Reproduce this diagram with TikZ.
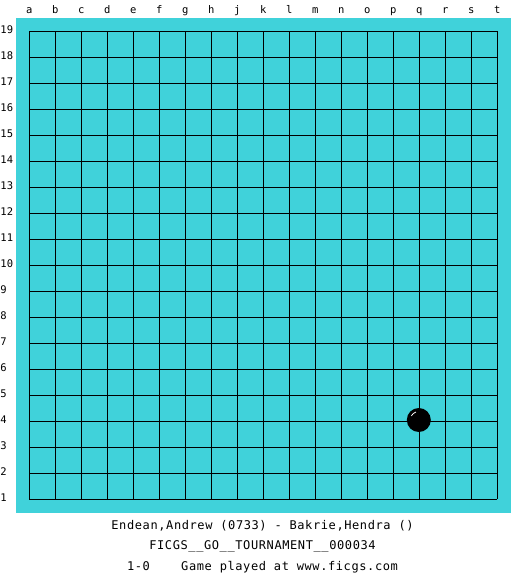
\documentclass[tikz,border=0pt]{standalone}
\usepackage{fontspec}
\newfontfamily\boardmono{DejaVu Sans Mono}
\newfontfamily\titlemono[LetterSpace=5]{DejaVu Sans Mono}
\definecolor{boardcyan}{RGB}{64,210,218}
\tikzset{
  lbl/.style={inner sep=0pt, font=\boardmono\fontsize{10.5}{12}\selectfont},
  title/.style={inner sep=0pt, anchor=base, font=\titlemono\fontsize{12}{14}\selectfont},
  gridline/.style={line width=1pt, black},
}
\begin{document}
\begin{tikzpicture}[x=1pt,y=-1pt]
\useasboundingbox (0,0) rectangle (525,575);
\fill[white] (0,0) rectangle (525,575);
\fill[boardcyan] (16,18) rectangle (511,513);
% grid
\foreach \k in {0,...,18}{
  \draw[gridline] ({29.3+26*\k},31.3) -- ({29.3+26*\k},499.3);
  \draw[gridline] (29.3,{31.3+26*\k}) -- (497.3,{31.3+26*\k});
}
% column letters
\foreach \c [count=\k from 0] in {a,b,c,d,e,f,g,h,j,k,l,m,n,o,p,q,r,s,t}{
  \node[lbl, anchor=base] (col\c) at ({29.3+26*\k},14) {\c};
}
% row numbers
\foreach \n in {1,...,19}{
  \node[lbl, anchor=base west] (row\n) at (0.3,{31.3+26*(19-\n)+2}) {\n};
}
% stone at q4
\fill[black] (418.8,420) circle (12);
\draw[white, line width=0.8pt] (418.8,420) ++(210:8.5) arc (210:250:8.5);
\node[inner sep=0pt] (stone) at (418.8,420) {};
% titles
\node[title] (players) at (262.5,529) {Endean,Andrew (0733) - Bakrie,Hendra ()};
\node[title] (event) at (262.5,549.5) {FICGS\_\_GO\_\_TOURNAMENT\_\_000034};
\node[title] (result) at (262.5,570) {1-0\ \ \ \ Game played at www.ficgs.com};
\end{tikzpicture}
\end{document}
